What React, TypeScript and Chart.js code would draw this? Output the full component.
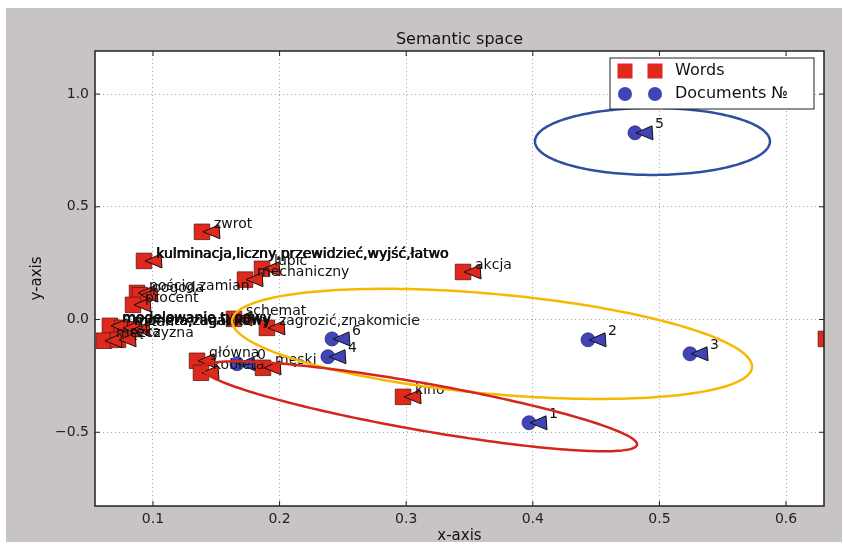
import React, { useEffect, useRef } from "react";
import { Chart, registerables } from "chart.js";

Chart.register(...registerables);

// ---- data ----
const wordLabels = [
  "zwrot",
  "kulminacja,liczny,przewidzieć,wyjść,łatwo",
  "lubić",
  "mechaniczny",
  "akcja",
  "pościg,zamian",
  "pogoda",
  "procent",
  "modelowanie,typowy",
  "moneta,zagadkowy",
  "stan",
  "mężczyzna",
  "ręka",
  "schemat",
  "zagrozić,znakomicie",
  "główna",
  "kobieta",
  "męski",
  "kino",
  "film",
];
const wordX = [
  0.1387, 0.0929, 0.1861, 0.1727, 0.3449, 0.0874, 0.0897, 0.0842, 0.066, 0.0755,
  0.0834, 0.0613, 0.0724, 0.164, 0.19, 0.1348, 0.1379, 0.1869, 0.2975, 0.6315,
];
const wordY = [
  0.389, 0.26, 0.225, 0.177, 0.211, 0.118, 0.108, 0.065, -0.028, -0.037,
  -0.043, -0.094, -0.09, 0.003, -0.037, -0.183, -0.236, -0.214, -0.343, -0.086,
];
const boldWords = ["kulminacja,liczny,przewidzieć,wyjść,łatwo", "modelowanie,typowy", "moneta,zagadkowy"];

const docLabels = ["0", "1", "2", "3", "4", "5", "6"];
const docX = [0.1664, 0.397, 0.4436, 0.5242, 0.2382, 0.4807, 0.2414];
const docY = [-0.196, -0.458, -0.09, -0.152, -0.165, 0.828, -0.086];

const xTicks = [0.1, 0.2, 0.3, 0.4, 0.5, 0.6];
const yTicks = [-0.5, 0.0, 0.5, 1.0];
const xMin = 0.0542;
const xMax = 0.63;
const yMin = -0.827;
const yMax = 1.191;

// ellipses in data space: centre + two conjugate semi-axis vectors
const ellipseCx = [0.4945, 0.3678, 0.3105];
const ellipseCy = [0.79, -0.108, -0.3848];
const ellipseAx = [0.0928, 0.2053, 0.1718];
const ellipseAy = [0.0, -0.1047, -0.1707];
const ellipseBx = [0.0, -0.00358, -0.00325];
const ellipseBy = [0.1485, -0.2207, -0.103];

const title = "Semantic space";
const xTitle = "x-axis";
const yTitle = "y-axis";
const seriesNames = ["Words", "Documents №"];

// ---- styles ----
const FONT = "'DejaVu Sans', sans-serif";
const WORD_COLOR = "#e0281d";
const DOC_COLOR = "#4044b8";
const ELLIPSE_COLORS = ["#2f4f9f", "#f7b800", "#d3261d"];
const BG_GRAY = "#c8c4c3";

const fmt = (v: number) => {
  const s = Math.abs(v).toFixed(1);
  return v < -1e-9 ? "\u2212" + s : s;
};

const decor = {
  id: "decor",
  beforeDraw(chart: any) {
    const { ctx, chartArea: a } = chart;
    ctx.save();
    ctx.fillStyle = "#ffffff";
    ctx.fillRect(0, 0, chart.width, chart.height);
    ctx.fillStyle = BG_GRAY;
    ctx.fillRect(6, 8, 836, 534);
    ctx.fillStyle = "#ffffff";
    ctx.fillRect(a.left, a.top, a.right - a.left, a.bottom - a.top);
    ctx.restore();
  },
  afterDatasetsDraw(chart: any) {
    const { ctx, chartArea: a } = chart;
    const xs = chart.scales.x;
    const ys = chart.scales.y;
    ctx.save();
    ctx.beginPath();
    ctx.rect(a.left, a.top, a.right - a.left, a.bottom - a.top);
    ctx.clip();

    const tri = (px: number, py: number, color: string) => {
      ctx.beginPath();
      ctx.moveTo(px + 1, py);
      ctx.lineTo(px + 17, py - 7);
      ctx.lineTo(px + 18, py + 7);
      ctx.closePath();
      ctx.fillStyle = color;
      ctx.fill();
      ctx.lineWidth = 1;
      ctx.strokeStyle = "#111";
      ctx.stroke();
    };

    // triangles
    wordX.forEach((x, i) => tri(xs.getPixelForValue(x), ys.getPixelForValue(wordY[i]), WORD_COLOR));
    docX.forEach((x, i) => tri(xs.getPixelForValue(x), ys.getPixelForValue(docY[i]), DOC_COLOR));

    // labels
    ctx.textBaseline = "middle";
    ctx.textAlign = "left";
    ctx.fillStyle = "#111";
    ctx.font = "14px " + FONT;
    wordX.forEach((x, i) => {
      const px = xs.getPixelForValue(x);
      const py = ys.getPixelForValue(wordY[i]);
      ctx.fillText(wordLabels[i], px + 12, py - 7);
      if (boldWords.includes(wordLabels[i])) {
        // overlapping annotations in the original look heavier
        ctx.fillText(wordLabels[i], px + 12.7, py - 7);
        ctx.fillText(wordLabels[i], px + 12, py - 6.4);
      }
    });
    docX.forEach((x, i) => {
      const px = xs.getPixelForValue(x);
      const py = ys.getPixelForValue(docY[i]);
      ctx.fillText(docLabels[i], px + 20, py - 8);
    });

    // ellipses
    ellipseCx.forEach((cx, k) => {
      ctx.beginPath();
      for (let j = 0; j <= 200; j++) {
        const t = (j / 200) * Math.PI * 2;
        const dx = cx + ellipseAx[k] * Math.cos(t) + ellipseBx[k] * Math.sin(t);
        const dy = ellipseCy[k] + ellipseAy[k] * Math.cos(t) + ellipseBy[k] * Math.sin(t);
        const px = xs.getPixelForValue(dx);
        const py = ys.getPixelForValue(dy);
        if (j === 0) ctx.moveTo(px, py);
        else ctx.lineTo(px, py);
      }
      ctx.closePath();
      ctx.lineWidth = 2.5;
      ctx.strokeStyle = ELLIPSE_COLORS[k];
      ctx.stroke();
    });
    ctx.restore();
  },
  afterDraw(chart: any) {
    const { ctx, chartArea: a } = chart;
    const xs = chart.scales.x;
    const ys = chart.scales.y;
    ctx.save();
    // frame
    ctx.strokeStyle = "#222";
    ctx.lineWidth = 1.5;
    ctx.strokeRect(a.left, a.top, a.right - a.left, a.bottom - a.top);
    // inward tick marks
    ctx.lineWidth = 1;
    ctx.beginPath();
    xTicks.forEach((v) => {
      const p = xs.getPixelForValue(v);
      ctx.moveTo(p, a.bottom);
      ctx.lineTo(p, a.bottom - 5);
      ctx.moveTo(p, a.top);
      ctx.lineTo(p, a.top + 5);
    });
    yTicks.forEach((v) => {
      const p = ys.getPixelForValue(v);
      ctx.moveTo(a.left, p);
      ctx.lineTo(a.left + 5, p);
      ctx.moveTo(a.right, p);
      ctx.lineTo(a.right - 5, p);
    });
    ctx.stroke();

    // title & axis titles
    ctx.fillStyle = "#111";
    ctx.textAlign = "center";
    ctx.textBaseline = "middle";
    ctx.font = "16px " + FONT;
    ctx.fillText(title, (a.left + a.right) / 2, 40);
    ctx.font = "15px " + FONT;
    ctx.fillText(xTitle, (a.left + a.right) / 2, 536);
    ctx.save();
    ctx.translate(37, (a.top + a.bottom) / 2);
    ctx.rotate(-Math.PI / 2);
    ctx.fillText(yTitle, 0, 0);
    ctx.restore();

    // legend (two markers per entry)
    const bw = 204;
    const bh = 51;
    const bx = a.right - 10 - bw;
    const by = a.top + 7;
    ctx.fillStyle = "#ffffff";
    ctx.fillRect(bx, by, bw, bh);
    ctx.strokeStyle = "#222";
    ctx.lineWidth = 1;
    ctx.strokeRect(bx, by, bw, bh);
    const rowY = [by + 13, by + 36];
    [bx + 15, bx + 45].forEach((mx) => {
      ctx.fillStyle = WORD_COLOR;
      ctx.fillRect(mx - 7.5, rowY[0] - 7.5, 15, 15);
      ctx.beginPath();
      ctx.arc(mx, rowY[1], 7, 0, Math.PI * 2);
      ctx.fillStyle = DOC_COLOR;
      ctx.fill();
    });
    ctx.fillStyle = "#111";
    ctx.textAlign = "left";
    ctx.font = "16px " + FONT;
    ctx.fillText(seriesNames[0], bx + 65, rowY[0]);
    ctx.fillText(seriesNames[1], bx + 65, rowY[1]);
    ctx.restore();
  },
};

export default function App() {
  const ref = useRef<HTMLCanvasElement | null>(null);
  useEffect(() => {
    const canvas = ref.current;
    if (!canvas) return;
    const gridCommon = {
      color: "#a8a8a8",
      lineWidth: 1,
      drawTicks: false,
    };
    const chart = new Chart(canvas, {
      type: "scatter",
      data: {
        datasets: [
          {
            label: seriesNames[0],
            data: wordX.map((x, i) => ({ x, y: wordY[i] })),
            pointStyle: "rect",
            pointRadius: 11,
            pointHoverRadius: 11,
            backgroundColor: WORD_COLOR,
            borderColor: "#5a1a12",
            borderWidth: 0.8,
          },
          {
            label: seriesNames[1],
            data: docX.map((x, i) => ({ x, y: docY[i] })),
            pointStyle: "circle",
            pointRadius: 7,
            pointHoverRadius: 7,
            backgroundColor: DOC_COLOR,
            borderColor: "#2a2c80",
            borderWidth: 0.8,
          },
        ],
      },
      options: {
        responsive: false,
        animation: false,
        events: [],
        layout: { padding: { top: 51, right: 20, left: 0, bottom: 0 } },
        plugins: {
          legend: { display: false },
          tooltip: { enabled: false },
          title: { display: false },
        },
        scales: {
          x: {
            type: "linear",
            min: xMin,
            max: xMax,
            afterBuildTicks: (s: any) => {
              s.ticks = xTicks.map((v) => ({ value: v }));
            },
            afterFit: (s: any) => {
              s.height = 38;
              s.paddingLeft = 0;
              s.paddingRight = 0;
            },
            grid: gridCommon,
            border: { display: false, dash: [1, 3] },
            ticks: {
              padding: 5,
              maxRotation: 0,
              autoSkip: false,
              color: "#222",
              font: { family: FONT, size: 14 },
              callback: (v: any) => fmt(Number(v)),
            },
          },
          y: {
            type: "linear",
            min: yMin,
            max: yMax,
            afterBuildTicks: (s: any) => {
              s.ticks = yTicks.map((v) => ({ value: v }));
            },
            afterFit: (s: any) => {
              s.width = 95;
              s.paddingTop = 0;
              s.paddingBottom = 0;
            },
            grid: gridCommon,
            border: { display: false, dash: [1, 3] },
            ticks: {
              padding: 6,
              autoSkip: false,
              color: "#222",
              font: { family: FONT, size: 14 },
              callback: (v: any) => fmt(Number(v)),
            },
          },
        },
      } as any,
      plugins: [decor],
    });
    return () => chart.destroy();
  }, []);
  return (
    <div style={{ position: "absolute", left: 0, top: 0, width: 844, height: 544, background: "#fff" }}>
      <canvas ref={ref} width={844} height={544} style={{ display: "block", width: 844, height: 544 }} />
    </div>
  );
}
